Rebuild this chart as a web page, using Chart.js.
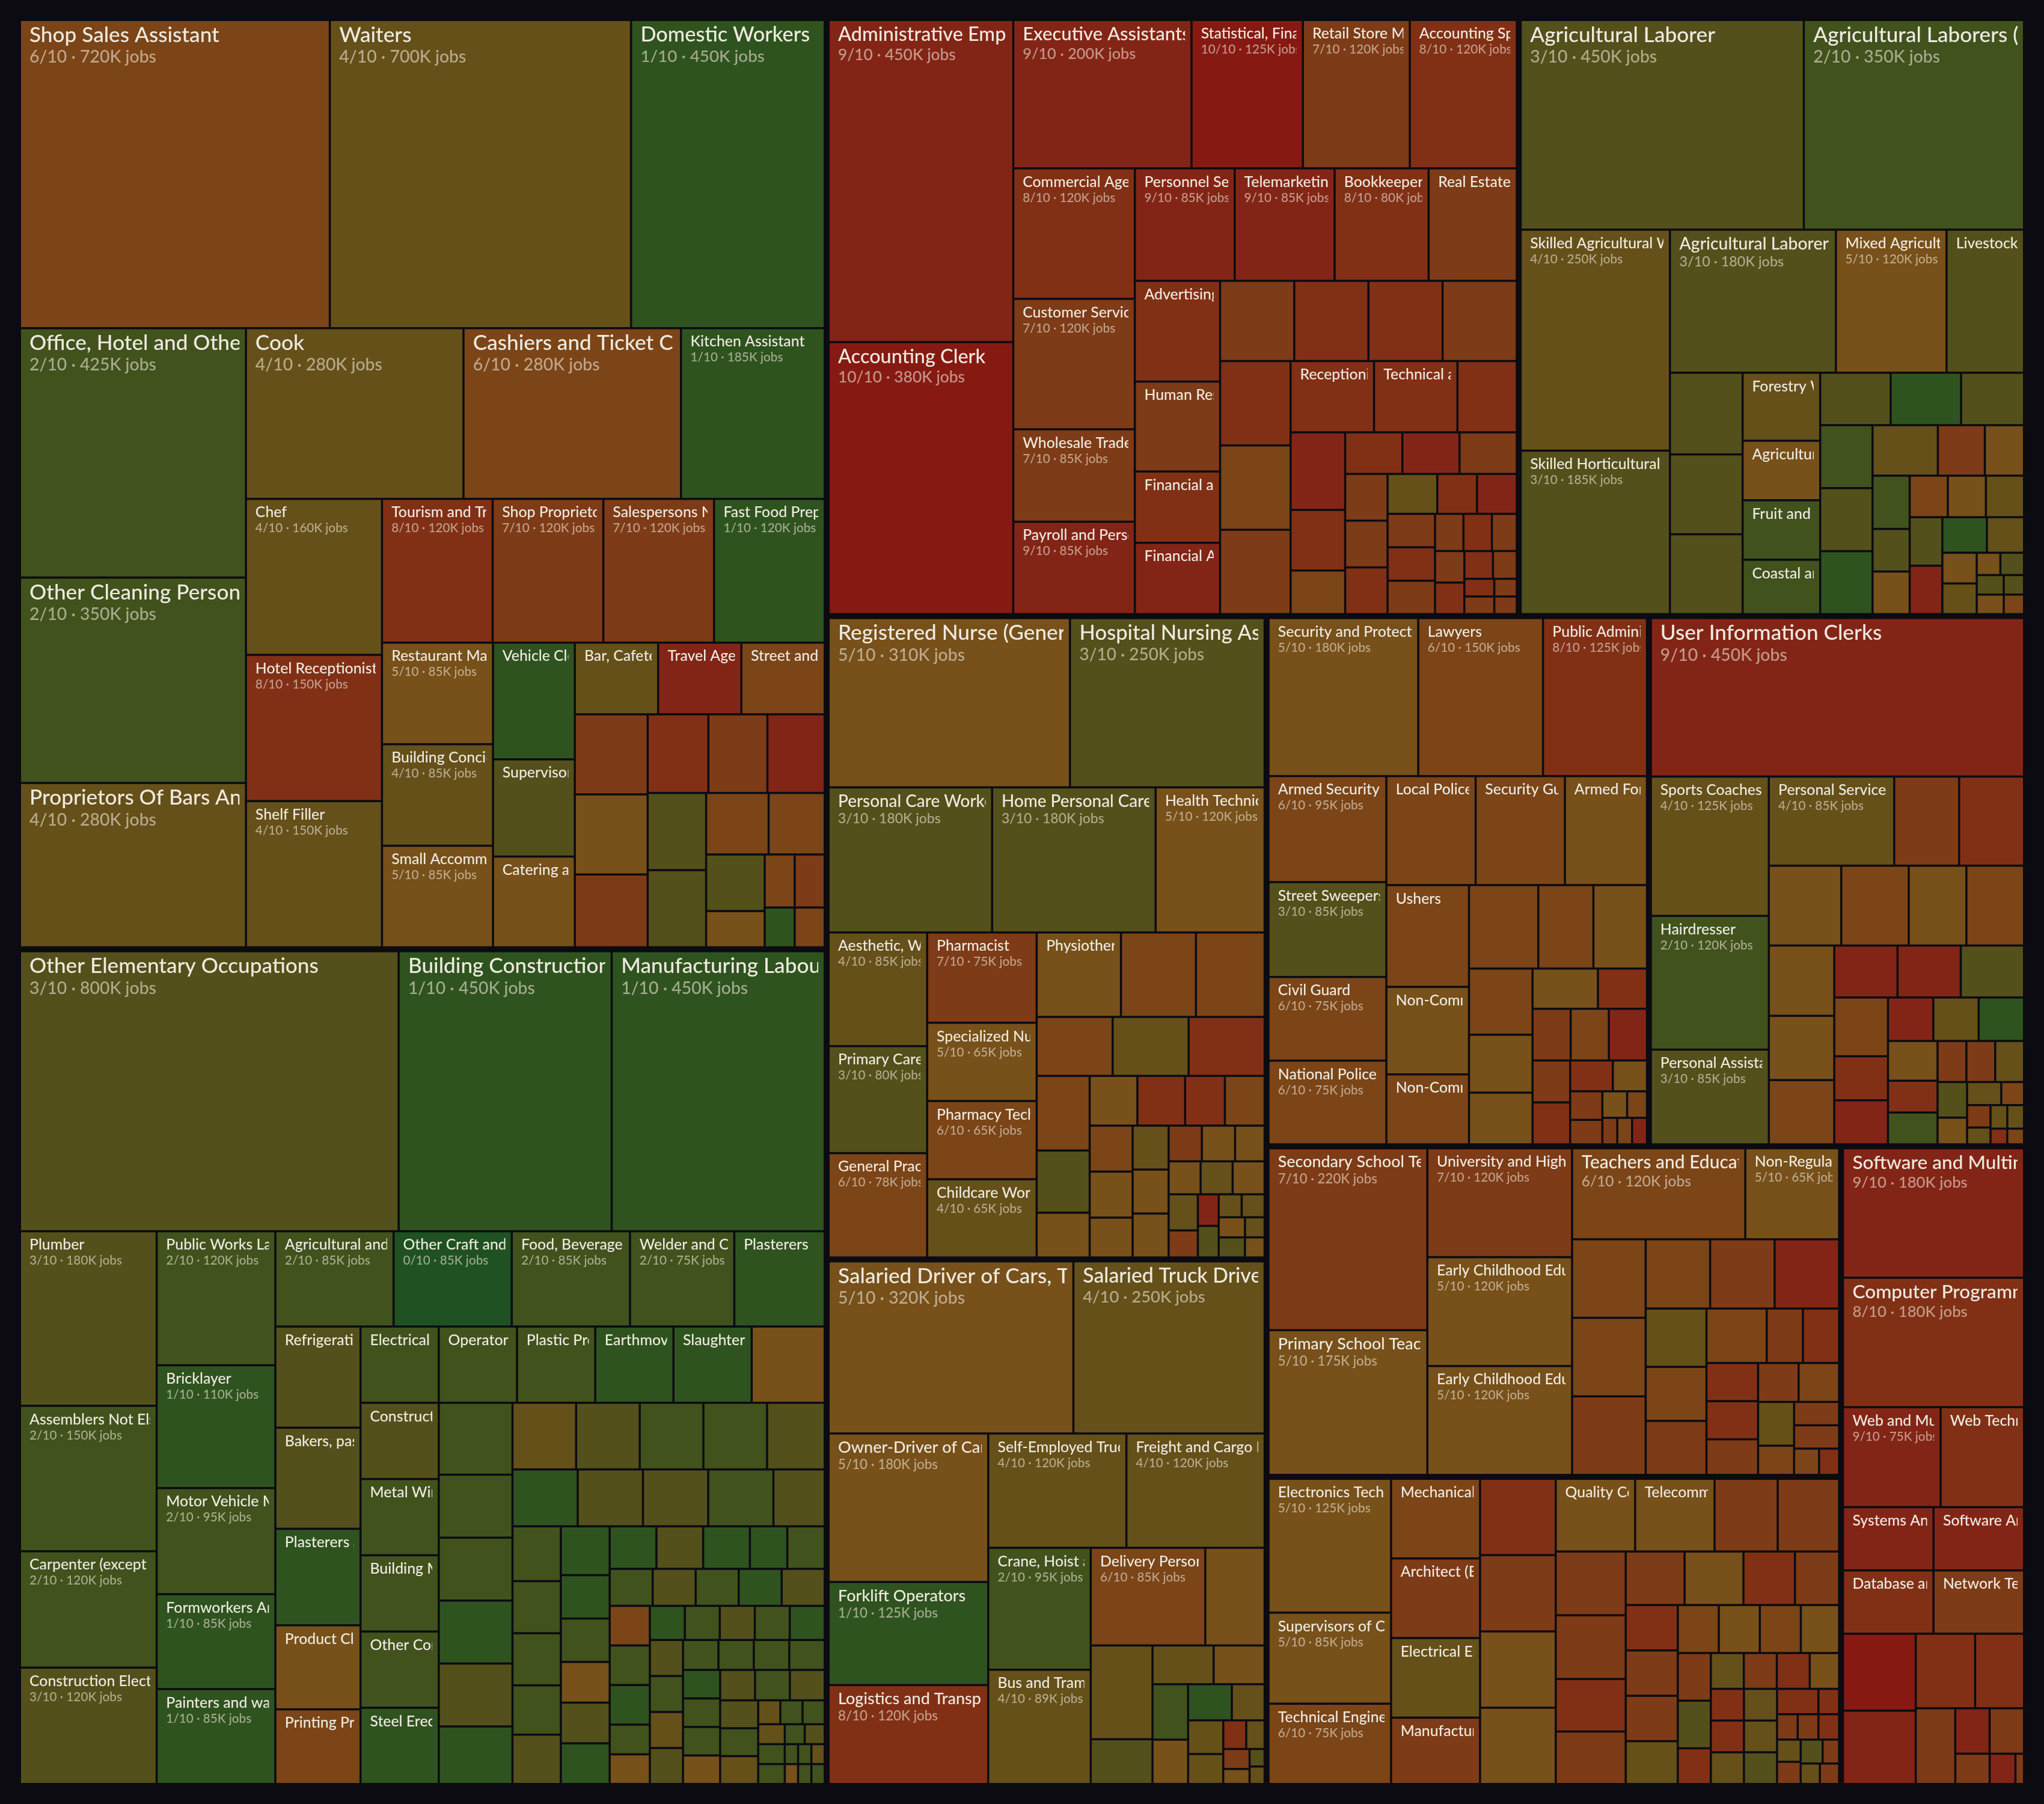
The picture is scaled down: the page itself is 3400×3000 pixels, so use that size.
<!DOCTYPE html>
<html>
<head>
<meta charset="utf-8">
<title>Occupations treemap</title>
<script src="https://cdn.jsdelivr.net/npm/chart.js@4.4.1/dist/chart.umd.min.js"></script>
<style>
html,body{margin:0;padding:0;background:#0b0b11;overflow:hidden;}
#wrap{position:relative;width:3400px;height:3000px;}
canvas{display:block;}
</style>
</head>
<body>
<div id="wrap"><canvas id="chart" width="3400" height="3000"></canvas></div>
<script>
// ================= DATA (jobs in thousands, automation score 0-10) =================
// Hospitality, cleaning & retail
const hospitalityNames = ["Shop Sales Assistant","Waiters","Domestic Workers","Office, Hotel and Other Establishment Cleaners","Other Cleaning Personnel","Proprietors Of Bars And Restaurants","Cook","Cashiers and Ticket Clerks","Kitchen Assistant","Chef","Hotel Receptionist","Shelf Filler","Tourism and Travel Information Clerks","Shop Proprietors","Salespersons Not Elsewhere Classified","Fast Food Preparers","Restaurant Managers","Building Concierges","Small Accommodation Managers","Vehicle Cleaners","Supervisors of Cleaning Staff","Catering and Bar Supervisors","Bar, Cafeteria and Restaurant Staff","Travel Agents","Street and Market Vendors",null,null,null,null,null,null,null,null,null,null,null,null,null,null,null,null];
const hospitalityJobs = [720,700,450,425,350,280,280,280,185,160,150,150,120,120,120,120,85,85,85,72,60,56,45,45,45,44,44,40,36,35,34,34,34,29,26,25,16,12,12,9,9];
const hospitalityScores = [6,4,1,2,2,4,4,6,1,4,8,4,8,7,7,1,5,4,5,1,3,5,4,9,6,7,5,7,8,7,9,3,3,6,6,3,5,6,7,1,6];

// Elementary, construction & manufacturing
const constructionNames = ["Other Elementary Occupations","Building Construction Labourers","Manufacturing Labourers","Plumber","Assemblers Not Elsewhere Classified","Carpenter (except Structural)","Construction Electricians","Public Works Labourers","Bricklayer","Motor Vehicle Mechanics","Formworkers And Concrete Workers","Painters and wallpaper hangers","Agricultural and Forestry Machine Operators","Other Craft and Related Workers","Food, Beverage and Tobacco Workers","Welder and Oxycutter","Plasterers","Refrigeration Mechanics","Bakers, pastry cooks and confectioners","Plasterers and Renderers","Product Classifiers and Testers","Printing Press Operators","Electrical Equipment Installers","Construction Machinery Operators","Metal Wire and Cable Workers","Building Maintenance Workers","Other Construction Workers","Steel Erectors","Operator of Fixed Machinery","Plastic Products Machine Operators","Earthmoving Equipment Operators","Slaughterers and Meat Processors",
  null,null,null,null,null,null,null,null,null,null,null,null,null,null,null,null,null,null,null,null,null,null,null,null,null,null,null,null,null,null,null,null,null,null,null,null,null,null,null,null,null,null,null,null,null,null,null,null,null,null,null,null,null,null,null,null,null,null,null,null,null,null,null,null,null,null,null,null,null,null,null,null,null,null,null,null,null,null,null,null];
const constructionJobs = [800,450,450,180,150,120,120,120,110,95,85,85,85,85,85,75,65,65,65,62,54,48,45,45,45,45,45,45,45,45,45,45,
  42, 40,35,35,35,35,32, 32,32,32,32,29, 28,28,28,28,22, 20,19,19,18,18, 18,16,16,15,15,15, 15,15,15,12,12, 12,12,12,12,12, 12,12,12,9,9, 9,9,9,9,9,
  9,9,9,9,8,8,8,8,8,8,8,8,8,8,8,8,8,8, 4,4,4,4,4,4,3,3,2,2,2,2,2,2];
const constructionScores = [3,1,1,3,2,2,3,2,1,2,1,1,2,0,2,2,1,3,3,1,5,6,2,3,2,2,2,1,2,2,1,1,
  5, 2,2,2,1,3,1, 4,3,2,2,3, 1,3,3,2,3, 2,2,2,2,3, 1,1,2,5,3,1, 1,3,1,1,2, 2,3,2,1,3, 6,2,1,2,5, 1,2,3,2,1,
  3,2,4,3,2,2,2,2,1,2,2,5,3,2,3,3,2,4, 4,2,2,4,2,2,2,3,2,5,2,4,2,2];

// Office & administration
const officeNames = ["Administrative Employees","Accounting Clerk","Executive Assistants and Secretaries","Statistical, Financial and Insurance Clerks","Retail Store Managers","Accounting Specialists","Commercial Agents and Brokers","Customer Service Clerks","Wholesale Trade Agents","Payroll and Personnel Clerks","Personnel Services Clerks","Telemarketing Operators","Bookkeeper","Real Estate Agents","Advertising and Marketing Professionals","Human Resources Specialists","Financial and Insurance Agents","Financial Analysts",null,null,null,null,null,null,null,"Receptionists","Technical and Administrative Assistants",
  null,null,null,null,null,null,null,null,null,null,null,null,null,null,null,null,null,null,null,null,null,null,null,null,null,null,null];
const officeJobs = [450,380,200,125,120,120,120,120,85,85,85,85,80,75,65,58,46,46, 45,45,45,45,45,45,45, 45,45,
  32,32,25, 18,18,18,18, 15,15,15,15, 12,12,12,12,12, 8,8, 7,7,7, 6,5,4,4,3,3];
const officeScores = [9,10,9,10,7,8,8,7,7,9,9,9,8,7,8,7,8,9, 7,8,8,7,8,6,7, 8,8,
  8,9,8, 6,8,9,7, 7,7,8,4, 8,9,7,8,7, 7,8, 7,7,8, 8,7,8,7,7,7];

// Agriculture
const agricultureNames = ["Agricultural Laborer","Agricultural Laborers (Livestock)","Skilled Agricultural Workers","Skilled Horticultural Workers","Agricultural Laborers (Mixed Crops)","Mixed Agricultural Producers","Livestock Farm Workers",null,null,null,"Forestry Workers","Agricultural Technicians","Fruit and Vegetable Growers","Coastal and Aquaculture Workers",
  null,null,null,null,null,null,null,null,null,null,null,null,null,null,null,null,null,null,null,null,null,null,null,null,null,null,null];
const agricultureJobs = [450,350,250,185,180,120,84, 45,44,44, 40,35,35,32, 28,28,25, 25,25,25, 25,18,15, 15,12,12, 12,12,12, 12,12, 12,10, 8,8, 4,4,4,4,3,3];
const agricultureScores = [3,2,4,3,3,5,3, 3,3,3, 4,5,2,2, 3,1,3, 2,3,1, 4,7,5, 2,3,5, 6,5,4, 3,9, 1,4, 5,4, 5,3,3,5,3,6];

// Health & care
const healthNames = ["Registered Nurse (General Care)","Hospital Nursing Assistants","Personal Care Workers","Home Personal Care Workers","Health Technicians","Aesthetic, Wellness and Beauty Workers","Primary Care Physicians","General Practitioners","Pharmacist","Specialized Nurses","Pharmacy Technicians","Childcare Workers","Physiotherapists",
  null,null,null,null,null,null,null,null,null,null,null,null,null,null,null,null,null,null,null,null,null,null,null,null,null,null,null,null,null,null,null,null,null,null];
const healthJobs = [310,250,180,180,120,85,80,78,75,65,65,65,54, 48,44, 34,34,34, 30,25,18, 18,18,15,15, 15,15,13, 12,12,12, 9,9,8, 8,8,8, 8,6, 5,5,4,4,4,4,3,3,3];
const healthScores = [5,3,3,3,5,4,3,6,7,5,6,4,5, 6,6, 6,4,8, 6,3,5, 5,8,8,6, 6,5,5, 4,5,5, 7,5,5, 5,4,5, 4,7, 9,3,4,4,5,3,4,5,5];

// Transport & logistics
const transportNames = ["Salaried Driver of Cars, Taxis and Vans","Salaried Truck Drivers","Owner-Driver of Cars and Taxis","Forklift Operators","Logistics and Transport Clerks","Self-Employed Truck Drivers","Freight and Cargo Handlers","Crane, Hoist and Lift Operators","Bus and Tram Drivers","Delivery Persons",
  null,null,null,null,null,null,null,null,null,null,null,null,null,null,null,null,null];
const transportJobs = [320,250,180,125,120,120,120,95,89,85, 44, 44,21, 18,15, 15,12, 12,9, 9,8, 5,4,4,3,2,2];
const transportScores = [5,4,5,1,8,4,4,2,4,6, 5, 4,3, 4,5, 2,5, 1,4, 4,4, 8,4,7,5,3,4];

// Security, law & public order
const securityNames = ["Security and Protection Services","Lawyers","Public Administration Officers","Armed Security Guards","Street Sweepers","Civil Guard","National Police Officers","Local Police","Security Guards","Armed Forces","Ushers","Non-Commissioned Officers (Armed Forces)","Non-Commissioned Officers (Civil Guard)",
  null,null,null,null,null,null,null,null,null,null,null,null,null,null,null,null,null,null,null,null,null,null];
const securityJobs = [180,150,125,95,85,75,75,74,74,68,64,55,44, 44,35,34,32,28,25,20, 15,15,15,15, 12,12,10, 8,7,6,5,4,3,3,3];
const securityScores = [5,6,8,6,3,6,6,6,6,5,6,5,6, 6,6,5,6,5,5,5, 8,7,6,9, 7,8,8, 5,7,7,5,6,7,6,9];

// Personal services & information
const servicesNames = ["User Information Clerks","Sports Coaches and Instructors","Hairdresser","Personal Assistants","Personal Service Workers",
  null,null,null,null,null,null,null,null,null,null,null,null,null,null,null,null,null,null,null,null,null,null,null,null,null,null,null,null,null,null,null,null,null,null];
const servicesJobs = [450,125,120,85,85, 44,44, 44,41,35,35, 35,32,32, 25,25,25, 24,18,18, 15,15,15, 15,12,12, 9,9,9, 8,6, 6,4,4,3,3,3,2,2];
const servicesScores = [9,4,2,3,4, 7,8, 5,6,5,6, 5,5,6, 9,9,3, 6,8,9, 9,4,1, 5,8,2, 7,7,4, 3,5, 4,6,7,4,4,4,8,6];

// Education
const educationNames = ["Secondary School Teachers","Primary School Teachers","University and Higher Education Teachers","Early Childhood Education Teachers","Early Childhood Educators","Teachers and Educators (Other)","Non-Regulated Education Teachers",
  null,null,null,null,null,null,null,null,null,null,null,null,null,null,null,null,null,null,null,null,null,null,null];
const educationJobs = [220,175,120,120,120,120,65, 44,44,44, 34,34,34, 27,25,25, 25,15,15, 15,15,14, 12,12, 12,8, 8,8,5,4];
const educationScores = [7,5,7,5,5,6,5, 6,6,7, 6,7,9, 4,6,7, 6,7,8, 8,8,7, 7,6, 4,6, 7,7,6,8];

// Engineering & technical
const engineeringNames = ["Electronics Technicians","Supervisors of Construction","Technical Engineers","Mechanical Engineers","Architect (Except Landscape)","Electrical Engineers","Manufacturing Engineers",null,null,null,null,"Quality Control Technicians","Telecommunications Technicians",
  null,null,null,null,null,null,null,null,null,null,null,null,null,null,null,null,null,null,null,null,null,null,null,null,null,null,null,null,null,null,null,null,null,null,null,null,null,null,null,null,null,null];
const engineeringJobs = [125,85,75,54,54,54,45, 44,44,44,44, 44,44, 35,34, 34,34,28,28, 24,24,21,18, 18,18,18,17, 15,15,15,14, 12,12,9,9, 9,9,8,8, 8,8,8, 8,8,8, 4,4,4,4,4,4,4,3,3,3,3,3,2];
const engineeringScores = [5,5,6,6,7,4,7, 8,7,5,5, 5,5, 7,7, 7,7,8,7, 7,5,8,7, 8,7,7,4, 6,5,6,5, 7,3,8,4, 7,8,5,8, 8,4,4, 4,3,8, 8,7,7,8,4,7,3,7,4,7,1,2,8];

// Software & IT
const softwareNames = ["Software and Multimedia Developers","Computer Programmers","Web and Multimedia Developers","Web Technicians","Systems Analysts","Software Architects","Database and Systems Administrators","Network Technicians",
  null,null,null,null,null,null,null,null,null,null];
const softwareJobs = [180,180,75,64,44,44,44,44, 43,41, 34,28, 23, 12,12, 8,6,2];
const softwareScores = [9,8,9,8,9,9,8,7, 10,9, 8,8, 7, 9,7, 7,9,7];

// ================= STYLE =================
const W = 3400, H = 3000;
const BG = '#0b0b11';
const PALETTE = ['#1f5122','#2f531f','#41521d','#53501b','#65501a','#77501a','#7b4518','#7e3b17','#813016','#832516','#861a13'];
const NAME_COLOR = '#eeeae0';
const VALUE_COLOR = 'rgba(238,230,215,0.6)';
const FONT = 'Lato, "Open Sans", sans-serif';
const NAME_WEIGHT = 500, VALUE_WEIGHT = 500;
const ROOT = {x0: 35, y0: 35, x1: 3365, y1: 2965};
const GROUP_GAP = 10, CELL_GAP = 3.5;

const groupTable = [
  {names: hospitalityNames, jobs: hospitalityJobs, scores: hospitalityScores},
  {names: constructionNames, jobs: constructionJobs, scores: constructionScores},
  {names: officeNames, jobs: officeJobs, scores: officeScores},
  {names: agricultureNames, jobs: agricultureJobs, scores: agricultureScores},
  {names: healthNames, jobs: healthJobs, scores: healthScores},
  {names: transportNames, jobs: transportJobs, scores: transportScores},
  {names: securityNames, jobs: securityJobs, scores: securityScores},
  {names: servicesNames, jobs: servicesJobs, scores: servicesScores},
  {names: educationNames, jobs: educationJobs, scores: educationScores},
  {names: engineeringNames, jobs: engineeringJobs, scores: engineeringScores},
  {names: softwareNames, jobs: softwareJobs, scores: softwareScores}
];

// squarified tiling (classic aspect-ratio target 1)
function squarify(nodes, x0, y0, x1, y1) {
  let value = nodes.reduce((s, d) => s + d.value, 0);
  const n = nodes.length;
  let i0 = 0, i1 = 0;
  while (i0 < n) {
    const dx = x1 - x0, dy = y1 - y0;
    let sumValue, nodeValue;
    do { sumValue = nodes[i1++].value; } while (!sumValue && i1 < n);
    let minValue = sumValue, maxValue = sumValue;
    const alpha = Math.max(dy / dx, dx / dy) / value;
    let beta = sumValue * sumValue * alpha;
    let minRatio = Math.max(maxValue / beta, beta / minValue);
    for (; i1 < n; ++i1) {
      sumValue += nodeValue = nodes[i1].value;
      if (nodeValue < minValue) minValue = nodeValue;
      if (nodeValue > maxValue) maxValue = nodeValue;
      beta = sumValue * sumValue * alpha;
      const newRatio = Math.max(maxValue / beta, beta / minValue);
      if (newRatio > minRatio) { sumValue -= nodeValue; break; }
      minRatio = newRatio;
    }
    const row = nodes.slice(i0, i1);
    if (dx < dy) {
      const yb = value ? y0 + dy * sumValue / value : y1;
      let x = x0; const k = (x1 - x0) / sumValue;
      row.forEach(d => { d.x0 = x; x += d.value * k; d.x1 = x; d.y0 = y0; d.y1 = yb; });
      y0 = yb;
    } else {
      const xb = value ? x0 + dx * sumValue / value : x1;
      let y = y0; const k = (y1 - y0) / sumValue;
      row.forEach(d => { d.y0 = y; y += d.value * k; d.y1 = y; d.x0 = x0; d.x1 = xb; });
      x0 = xb;
    }
    value -= sumValue; i0 = i1;
  }
}

function computeCells() {
  const groups = groupTable.map(g => {
    const leaves = g.names.map((name, i) => ({name, value: g.jobs[i], score: g.scores[i]}));
    leaves.sort((a, b) => b.value - a.value);
    return {leaves, value: leaves.reduce((s, d) => s + d.value, 0)};
  });
  groups.sort((a, b) => b.value - a.value);
  const p1 = GROUP_GAP / 2, p2 = CELL_GAP / 2;
  squarify(groups, ROOT.x0 - p1, ROOT.y0 - p1, ROOT.x1 + p1, ROOT.y1 + p1);
  const cells = [];
  groups.forEach(g => {
    g.x0 += p1; g.y0 += p1; g.x1 -= p1; g.y1 -= p1;
    squarify(g.leaves, g.x0 - p2, g.y0 - p2, g.x1 + p2, g.y1 + p2);
    g.leaves.forEach(d => { d.x0 += p2; d.y0 += p2; d.x1 -= p2; d.y1 -= p2; cells.push(d); });
  });
  return cells;
}

// label sizing: font sizes chosen so sample strings reach the reference text widths
function labelMetrics(ctx) {
  const m = (txt, wt) => { ctx.font = `${wt} 100px ${FONT}`; return ctx.measureText(txt).width / 100; };
  return {
    nameMax: 316 / m('Shop Sales Assistant', NAME_WEIGHT),
    nameMin: 190 / m('Kitchen Assistant', NAME_WEIGHT),
    valMax: 211 / m('6/10 \u00b7 720K jobs', VALUE_WEIGHT),
    valMin: 154 / m('1/10 \u00b7 185K jobs', VALUE_WEIGHT)
  };
}

const treemapPlugin = {
  id: 'treemapCells',
  beforeDraw(chart) {
    const ctx = chart.ctx;
    ctx.save(); ctx.fillStyle = BG; ctx.fillRect(0, 0, chart.width, chart.height); ctx.restore();
  },
  afterDatasetsDraw(chart) {
    const ctx = chart.ctx, xs = chart.scales.x, ys = chart.scales.y;
    const cells = computeCells();
    ctx.save();
    const lm = labelMetrics(ctx);
    cells.forEach(c => {
      const X0 = xs.getPixelForValue(c.x0), X1 = xs.getPixelForValue(c.x1);
      const Y0 = ys.getPixelForValue(c.y0), Y1 = ys.getPixelForValue(c.y1);
      ctx.fillStyle = PALETTE[c.score];
      ctx.fillRect(X0, Y0, X1 - X0, Y1 - Y0);
    });
    cells.forEach(c => {
      if (!c.name) return;
      const X0 = xs.getPixelForValue(c.x0), X1 = xs.getPixelForValue(c.x1);
      const Y0 = ys.getPixelForValue(c.y0), Y1 = ys.getPixelForValue(c.y1);
      const w = X1 - X0, h = Y1 - Y0;
      if (w < 123 || h < 40) return;
      const t = Math.min(1, Math.max(0, (w - 245) / 80));
      const nf = lm.nameMin + (lm.nameMax - lm.nameMin) * t;
      const vf = lm.valMin + (lm.valMax - lm.valMin) * t;
      const nameBase = 29 + 5.5 * t;
      const valueBase = 54 + 15 * t;
      ctx.save();
      ctx.beginPath(); ctx.rect(X0, Y0, w - 9, h); ctx.clip();
      ctx.textBaseline = 'alphabetic'; ctx.textAlign = 'left';
      ctx.font = `${NAME_WEIGHT} ${nf}px ${FONT}`;
      ctx.fillStyle = NAME_COLOR;
      ctx.fillText(c.name, X0 + 14, Y0 + nameBase);
      if (w >= 150 && h >= 75) {
        ctx.font = `${VALUE_WEIGHT} ${vf}px ${FONT}`;
        ctx.fillStyle = VALUE_COLOR;
        ctx.fillText(`${c.score}/10 \u00b7 ${c.value}K jobs`, X0 + 14, Y0 + valueBase);
      }
      ctx.restore();
    });
    ctx.restore();
  }
};

new Chart(document.getElementById('chart'), {
  type: 'scatter',
  data: { datasets: [{ data: [], pointRadius: 0 }] },
  options: {
    responsive: false, animation: false, devicePixelRatio: 1,
    layout: { padding: 0 },
    scales: {
      x: { type: 'linear', min: 0, max: W, display: false },
      y: { type: 'linear', min: 0, max: H, reverse: true, display: false }
    },
    plugins: { legend: { display: false }, tooltip: { enabled: false } }
  },
  plugins: [treemapPlugin]
});
</script>
</body>
</html>
